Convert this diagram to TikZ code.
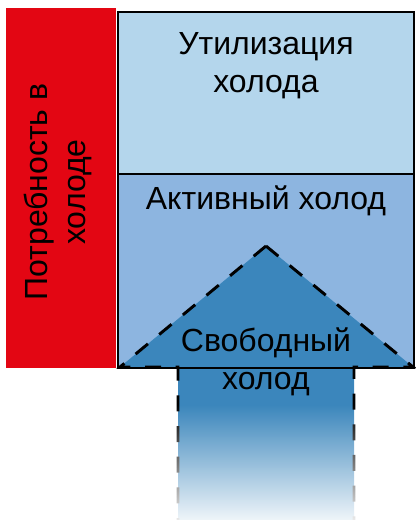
\documentclass[tikz,border=0pt]{standalone}
\usepackage{fontspec}
\setmainfont{Liberation Sans}
\usetikzlibrary{fadings}
\definecolor{redc}{HTML}{E30613}
\definecolor{topblue}{HTML}{B4D6EC}
\definecolor{midblue}{HTML}{8DB5E0}
\definecolor{arrowblue}{HTML}{3B86BC}
\tikzfading[name=fadeup, top color=transparent!100, bottom color=transparent!0]
\tikzset{
  lbl/.style={font=\fontsize{24pt}{28.5pt}\selectfont, align=center, text=black, inner sep=0pt},
  boxline/.style={draw=black, line width=2pt},
  dashline/.style={draw=black, line width=2.2pt, dash pattern=on 12pt off 11pt}
}
\begin{document}
\begin{tikzpicture}[x=0.75pt,y=-0.75pt]
\useasboundingbox (0,0) rectangle (416,520);
% red bar
\fill[redc] (6,8) rectangle (116,368);
\node[lbl, rotate=90] (need) at (58,192) {Потребность в\\холоде};
% boxes
\fill[topblue] (118,12) rectangle (414,174);
\fill[midblue] (118,174) rectangle (414,368);
% arrow
\coordinate (apex) at (266,246);
\coordinate (bl) at (120,367);
\coordinate (br) at (413,367);
\coordinate (sl) at (178,367);
\coordinate (sr) at (354,367);
\coordinate (slb) at (178,520);
\coordinate (srb) at (354,520);
\fill[arrowblue] (apex) -- (br) -- (sr) -- (srb) -- (slb) -- (sl) -- (bl) -- cycle;
% box borders
\draw[boxline] (118,12) rectangle (414,368);
\draw[boxline] (118,174) -- (414,174);
% arrow outline
\draw[dashline] (apex) -- (bl) -- (sl) -- (slb);
\draw[dashline] (apex) -- (br) -- (sr) -- (srb);
% fade of shaft
\fill[white, path fading=fadeup] (168,405) rectangle (364,530);
% labels
\node[lbl] (use) at (266,66) {Утилизация\\холода};
\node[lbl] (act) at (266,201) {Активный холод};
\node[lbl] (free) at (266,362) {Свободный\\холод};
\end{tikzpicture}
\end{document}
